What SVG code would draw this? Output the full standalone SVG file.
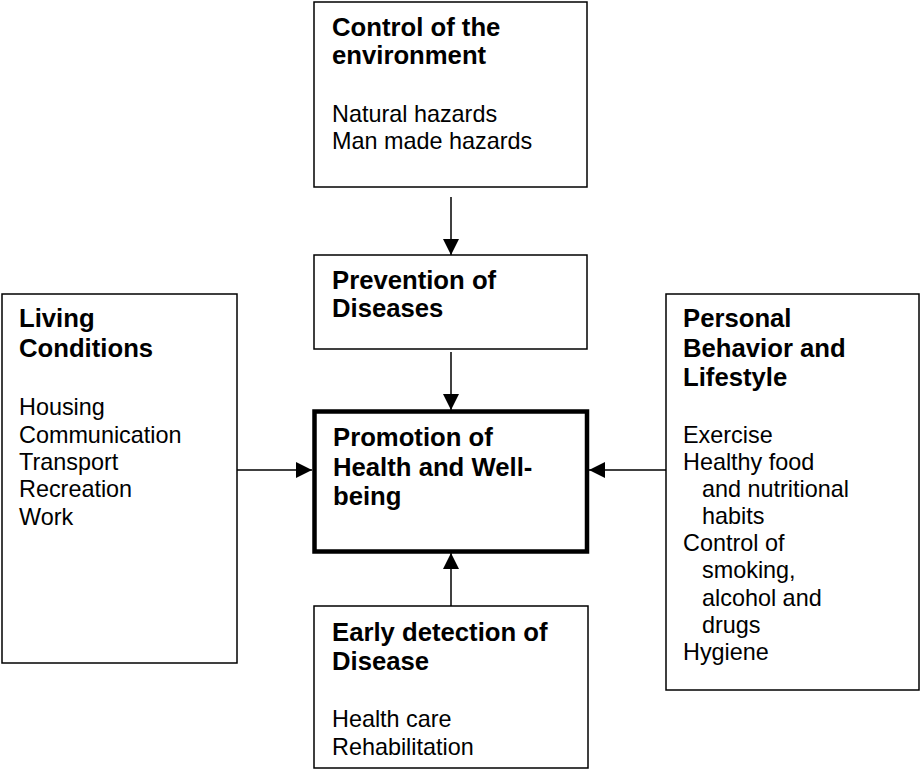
<svg xmlns="http://www.w3.org/2000/svg" width="920" height="769" viewBox="0 0 920 769">
<defs>
<style>
.box{fill:#fff;stroke:#000;stroke-width:1.5}
.main{fill:#fff;stroke:#000;stroke-width:4.5}
.t{font-family:"Liberation Sans",Arial,sans-serif;font-size:23.4px;fill:#000}
.b{font-family:"Liberation Sans",Arial,sans-serif;font-size:25.7px;font-weight:bold;fill:#000}
.c{stroke:#000;stroke-width:1.5;fill:none;marker-end:url(#ah)}
</style>
<marker id="ah" viewBox="0 0 16 16" refX="16" refY="8" markerWidth="16" markerHeight="16" orient="auto" markerUnits="userSpaceOnUse"><path d="M0,0 L16,8 L0,16 z" fill="#000"/></marker>
</defs>
<rect width="920" height="769" fill="#fff"/>
<g id="connectors">
<line class="c" x1="451" y1="197" x2="451" y2="255"/>
<line class="c" x1="451" y1="352" x2="451" y2="410"/>
<line class="c" x1="451" y1="610" x2="451" y2="553"/>
<line class="c" x1="237" y1="470" x2="312" y2="470"/>
<line class="c" x1="666" y1="470" x2="589" y2="470"/>
</g>
<g id="environment">
<rect class="box" x="314" y="2" width="273" height="185"/>
<text class="b" x="332" y="36">Control of the</text>
<text class="b" x="332" y="64">environment</text>
<text class="t" x="332" y="122">Natural hazards</text>
<text class="t" x="332" y="149">Man made hazards</text>
</g>
<g id="prevention">
<rect class="box" x="314" y="255" width="273" height="94"/>
<text class="b" x="332" y="289">Prevention of</text>
<text class="b" x="332" y="317">Diseases</text>
</g>
<g id="promotion">
<rect class="main" x="314.5" y="411.5" width="272.5" height="140"/>
<text class="b" x="333" y="446">Promotion of</text>
<text class="b" x="333" y="476">Health and Well-</text>
<text class="b" x="333" y="505">being</text>
</g>
<g id="early">
<rect class="box" x="314" y="606" width="274" height="162"/>
<text class="b" x="332" y="641">Early detection of</text>
<text class="b" x="332" y="670">Disease</text>
<text class="t" x="332" y="727">Health care</text>
<text class="t" x="332" y="755">Rehabilitation</text>
</g>
<g id="living">
<rect class="box" x="2" y="294" width="235" height="369"/>
<text class="b" x="19" y="327">Living</text>
<text class="b" x="19" y="357">Conditions</text>
<text class="t" x="19" y="415">Housing</text>
<text class="t" x="19" y="443">Communication</text>
<text class="t" x="19" y="470">Transport</text>
<text class="t" x="19" y="497">Recreation</text>
<text class="t" x="19" y="525">Work</text>
</g>
<g id="personal">
<rect class="box" x="666" y="294" width="253" height="396"/>
<text class="b" x="683" y="327">Personal</text>
<text class="b" x="683" y="357">Behavior and</text>
<text class="b" x="683" y="386">Lifestyle</text>
<text class="t" x="683" y="443">Exercise</text>
<text class="t" x="683" y="470">Healthy food</text>
<text class="t" x="702" y="497">and nutritional</text>
<text class="t" x="702" y="524">habits</text>
<text class="t" x="683" y="551">Control of</text>
<text class="t" x="702" y="578">smoking,</text>
<text class="t" x="702" y="606">alcohol and</text>
<text class="t" x="702" y="633">drugs</text>
<text class="t" x="683" y="660">Hygiene</text>
</g>
</svg>
